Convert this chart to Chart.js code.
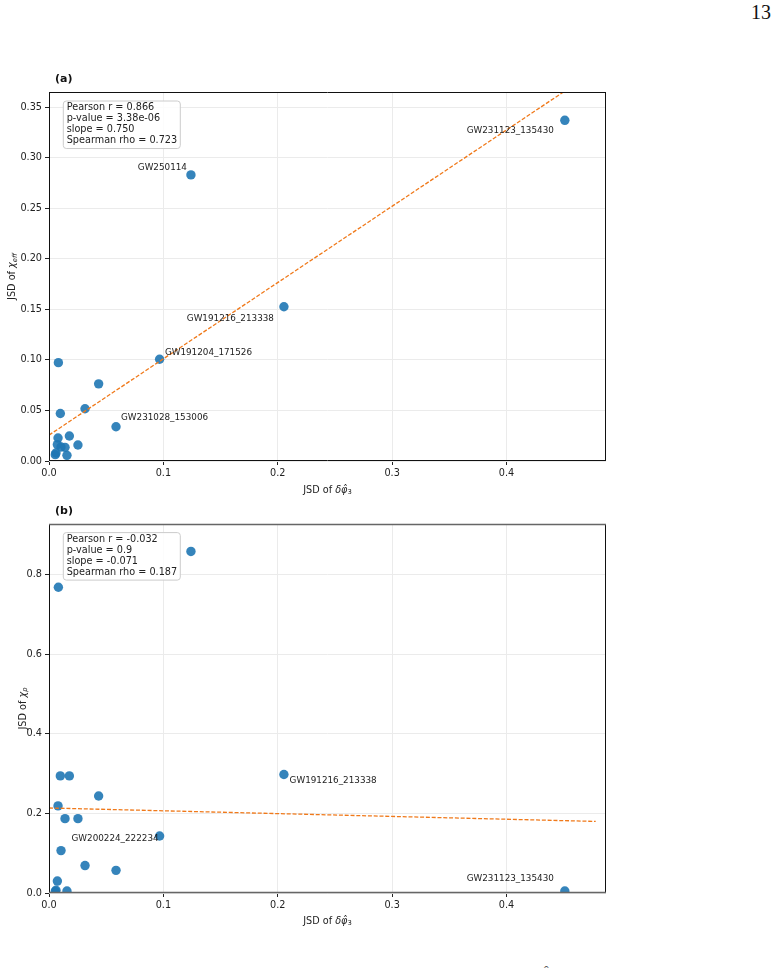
<!DOCTYPE html>
<html>
<head>
<meta charset="utf-8">
<script src="https://cdn.jsdelivr.net/npm/chart.js@4.4.1/dist/chart.umd.min.js"></script>
<style>
    body { margin: 0; background: #fff; width: 778px; height: 972px; position: relative; overflow: hidden; }
    #pageNum { position: absolute; left: 751px; top: 1px; font: 20px 'Liberation Serif', serif; color: #111; }
    #capHat { position: absolute; left: 544px; top: 964px; font: 14px 'Liberation Serif', serif; color: #555; }
    .panel { position: absolute; left: 0; }
</style>
</head>
<body>
<div id="pageNum">13</div>
<div id="capHat">ˆ</div>
<canvas id="chartA" class="panel" style="top:60px" width="640" height="450"></canvas>
<canvas id="chartB" class="panel" style="top:500px" width="640" height="450"></canvas>
<script>
// JSD of delta phi_3 for each event (shared x of both panels)
const jsdPhi3 = [0.0055, 0.0061, 0.0073, 0.0079, 0.0082, 0.0099, 0.0105, 0.0140, 0.0157,
                 0.0178, 0.0253, 0.0315, 0.0434, 0.0586, 0.0967, 0.1241, 0.2054, 0.451]
// panel (a): JSD of chi_eff
const jsdChiEff = [0.0063, 0.0079, 0.0162, 0.0227, 0.0973, 0.0470, 0.0138, 0.0135, 0.0056,
                   0.0247, 0.0158, 0.0517, 0.0763, 0.0339, 0.1006, 0.283, 0.1526, 0.337]
// panel (b): JSD of chi_p
const jsdChiP = [0.004, 0.007, 0.030, 0.219, 0.769, 0.2945, 0.1066, 0.187, 0.005,
                 0.2945, 0.187, 0.069, 0.244, 0.057, 0.1434, 0.859, 0.298, 0.005]

// annotated events
const namesA = ['', '', '', '', '', '', '', '', '', '', '', '', '', 'GW231028_153006',
                'GW191204_171526', 'GW250114', 'GW191216_213338', 'GW231123_135430']
const namesB = ['', '', '', '', '', '', '', '', '', '', '', '', '', '',
                'GW200224_222234', '', 'GW191216_213338', 'GW231123_135430']

// linear fits (end points)
const fitX = [0, 0.478]
const fitA = [0.0256, 0.3863]
const fitB = [0.2138, 0.180]

const statsA = ['Pearson r = 0.866', 'p-value = 3.38e-06', 'slope = 0.750', 'Spearman rho = 0.723']
const statsB = ['Pearson r = -0.032', 'p-value = 0.9', 'slope = -0.071', 'Spearman rho = 0.187']

const xTicks = [0, 0.1, 0.2, 0.3, 0.4]
const yTicksA = [0, 0.05, 0.10, 0.15, 0.20, 0.25, 0.30, 0.35]
const yTicksB = [0, 0.2, 0.4, 0.6, 0.8]

// label placement relative to the point: [dx, dy, align]
const labelPlaceA = {
    'GW250114': [-4, -7, 'right'],
    'GW231123_135430': [-11, 10.7, 'right'],
    'GW191216_213338': [-10, 11.7, 'right'],
    'GW191204_171526': [5.3, -7, 'left'],
    'GW231028_153006': [5, -8.6, 'left']
}
const labelPlaceB = {
    'GW191216_213338': [5.7, 6.7, 'left'],
    'GW200224_222234': [-1, 2.6, 'right'],
    'GW231123_135430': [-11, -12, 'right']
}

const FONT = "'DejaVu Sans'"

// draw a run of differently styled text pieces centred at (cx, cy)
const drawRich = (ctx, pieces, cx, cy) => {
    let total = 0
    for (const p of pieces) {
        ctx.font = p.f
        total += ctx.measureText(p.t).width
    }
    let x = cx - total / 2
    ctx.textAlign = 'left'
    ctx.textBaseline = 'middle'
    for (const p of pieces) {
        ctx.font = p.f
        ctx.fillText(p.t, x, cy + (p.dy || 0))
        x += ctx.measureText(p.t).width
    }
}

const panelDecor = {
    id: 'panelDecor',
    afterDraw(chart, args, opts) {
        const { ctx, chartArea: ca } = chart
        const xs = chart.scales.x, ys = chart.scales.y
        ctx.save()

        // frame
        ctx.strokeStyle = '#111'
        ctx.lineWidth = 1
        ctx.beginPath()
        ctx.moveTo(ca.left + 0.5, ca.top); ctx.lineTo(ca.left + 0.5, ca.bottom)
        ctx.moveTo(ca.right - 0.5, ca.top); ctx.lineTo(ca.right - 0.5, ca.bottom)
        ctx.stroke()
        ctx.strokeStyle = opts.hColor
        ctx.lineWidth = opts.hWidth
        ctx.beginPath()
        ctx.moveTo(ca.left, ca.top + 0.5); ctx.lineTo(ca.right, ca.top + 0.5)
        ctx.moveTo(ca.left, ca.bottom - 0.5); ctx.lineTo(ca.right, ca.bottom - 0.5)
        ctx.stroke()

        ctx.fillStyle = '#111'
        // panel tag
        ctx.font = 'bold 11px ' + FONT
        ctx.textAlign = 'left'
        ctx.textBaseline = 'middle'
        ctx.fillText(opts.tag, ca.left + 6, ca.top - 13)

        // point labels
        ctx.font = '8.8px ' + FONT
        ctx.fillStyle = '#222'
        opts.names.forEach((name, i) => {
            if (!name) return
            const [dx, dy, align] = opts.place[name]
            ctx.textAlign = align
            ctx.fillText(name, xs.getPixelForValue(jsdPhi3[i]) + dx, ys.getPixelForValue(opts.yData[i]) + dy)
        })

        // stats box
        const bx = ca.left + 14.3, by = ca.top + opts.boxDy, bw = 117, bh = 47.5
        ctx.beginPath()
        ctx.roundRect(bx, by, bw, bh, 3)
        ctx.fillStyle = 'rgba(255,255,255,0.85)'
        ctx.fill()
        ctx.strokeStyle = '#cccccc'
        ctx.lineWidth = 1
        ctx.stroke()
        ctx.fillStyle = '#222'
        ctx.font = '9.7px ' + FONT
        ctx.textAlign = 'left'
        opts.stats.forEach((s, k) => ctx.fillText(s, bx + 3.4, by + 6.7 + k * 11))

        // x axis title
        ctx.fillStyle = '#222'
        drawRich(ctx, [
            { t: 'JSD of ', f: '9.7px ' + FONT },
            { t: 'δφ̂', f: 'italic 9.7px ' + FONT },
            { t: '3', f: '6.8px ' + FONT, dy: 2.4 }
        ], (ca.left + ca.right) / 2, ca.bottom + opts.xTitleDy)

        // y axis title
        ctx.translate(opts.yTitleX, (ca.top + ca.bottom) / 2)
        ctx.rotate(-Math.PI / 2)
        drawRich(ctx, [
            { t: 'JSD of ', f: '9.7px ' + FONT },
            { t: 'χ', f: 'italic 9.7px ' + FONT },
            { t: opts.ySub, f: 'italic 6.8px ' + FONT, dy: 2.4 }
        ], 0, 0)

        ctx.restore()
    }
}

const makePanel = (id, yData, fitY, yTicks, yMax, yDigits, extra) => {
    const ctx = document.getElementById(id).getContext('2d')
    return new Chart(ctx, {
        type: 'scatter',
        data: {
            datasets: [{
                type: 'line',
                data: fitX.map((x, i) => ({ x: x, y: fitY[i] })),
                borderColor: '#f0791a',
                borderWidth: 1.3,
                borderDash: [4, 1.8],
                pointRadius: 0,
                fill: false
            }, {
                data: jsdPhi3.map((x, i) => ({ x: x, y: yData[i] })),
                backgroundColor: 'rgba(31,119,180,0.9)',
                borderWidth: 0,
                pointRadius: 4.7
            }]
        },
        options: {
            responsive: false,
            animation: false,
            devicePixelRatio: 1,
            layout: { padding: { top: extra.padTop, right: 34, left: 0, bottom: 0 } },
            plugins: {
                legend: { display: false },
                tooltip: { enabled: false },
                panelDecor: extra
            },
            scales: {
                x: {
                    type: 'linear',
                    min: 0,
                    max: 0.487,
                    bounds: 'data',
                    afterBuildTicks: axis => { axis.ticks = xTicks.map(v => ({ value: v })) },
                    afterFit: axis => { axis.height = extra.xAxisH },
                    border: { display: false },
                    grid: { color: '#ebebeb', tickColor: '#222', tickLength: 4, lineWidth: 1 },
                    ticks: {
                        callback: v => v.toFixed(1),
                        font: { family: 'DejaVu Sans', size: 9.7 },
                        color: '#222',
                        padding: 3,
                        maxRotation: 0,
                        autoSkip: false
                    }
                },
                y: {
                    type: 'linear',
                    min: 0,
                    max: yMax,
                    bounds: 'data',
                    afterBuildTicks: axis => { axis.ticks = yTicks.map(v => ({ value: v })) },
                    afterFit: axis => { axis.width = 49 },
                    border: { display: false },
                    grid: { color: '#ebebeb', tickColor: '#222', tickLength: 4, lineWidth: 1 },
                    ticks: {
                        callback: v => v.toFixed(yDigits),
                        font: { family: 'DejaVu Sans', size: 9.7 },
                        color: '#222',
                        padding: 3,
                        autoSkip: false
                    }
                }
            }
        },
        plugins: [panelDecor]
    })
}

makePanel('chartA', jsdChiEff, fitA, yTicksA, 0.365, 2, {
    tag: '(a)', names: namesA, place: labelPlaceA, yData: jsdChiEff, stats: statsA,
    padTop: 32, xAxisH: 49, boxDy: 9, xTitleDy: 29, yTitleX: 12.7, ySub: 'eff',
    hColor: '#111', hWidth: 1
})
makePanel('chartB', jsdChiP, fitB, yTicksB, 0.928, 1, {
    tag: '(b)', names: namesB, place: labelPlaceB, yData: jsdChiP, stats: statsB,
    padTop: 24, xAxisH: 57, boxDy: 8.6, xTitleDy: 28.3, yTitleX: 23, ySub: 'p',
    hColor: '#666', hWidth: 1.6
})
</script>
</body>
</html>
